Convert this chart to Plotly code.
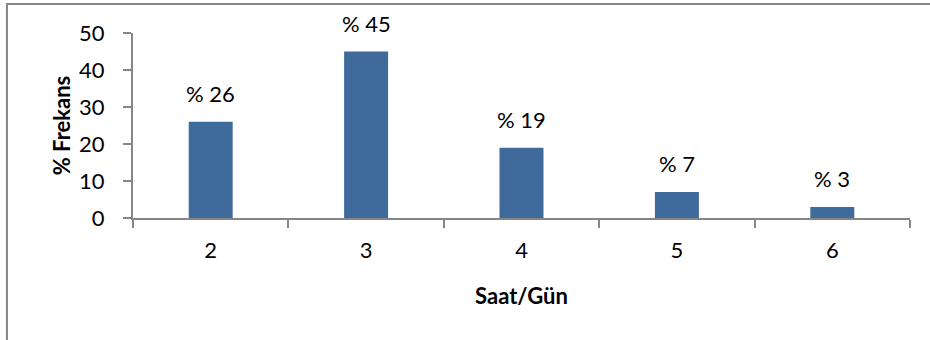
import plotly.graph_objects as go

# Daily hours and their frequency share (%)
hours = ["2", "3", "4", "5", "6"]
freq = [26, 45, 19, 7, 3]
y_ticks = [0, 10, 20, 30, 40, 50]

FONT = "Lato, Open Sans, sans-serif"
AXIS = "#868686"
BAR = "#3F6A9C"
FS = 22

fig = go.Figure(
    go.Bar(
        x=hours,
        y=freq,
        marker=dict(color=BAR, line=dict(width=0)),
        width=0.283,
        hoverinfo="skip",
    )
)

# value labels above each bar (category index positions)
for i, v in enumerate(freq):
    fig.add_annotation(
        x=i, y=v, text=f"% {v}", showarrow=False,
        yanchor="bottom", yshift=13,
        font=dict(family=FONT, size=FS, color="#000000"),
    )

# outer chart frame
fig.add_shape(
    type="rect", xref="paper", yref="paper",
    x0=-0.1622, x1=1.2, y0=-1.0, y1=1.157,
    line=dict(color=AXIS, width=2), fillcolor="rgba(0,0,0,0)",
    layer="below",
)

fig.update_layout(
    width=930, height=340,
    margin=dict(l=133, r=20, t=33, b=122),
    paper_bgcolor="white", plot_bgcolor="white",
    showlegend=False,
    font=dict(family=FONT, size=FS, color="#000000"),
)

fig.update_xaxes(
    type="category",
    range=[-0.5, len(hours) - 0.5],
    tickson="boundaries",
    ticks="outside", ticklen=8, tickwidth=2, tickcolor=AXIS,
    showline=True, linecolor=AXIS, linewidth=2,
    showgrid=False, zeroline=False,
    ticklabelstandoff=12,
    tickfont=dict(family=FONT, size=FS),
    title=dict(text="<b>Saat/Gün</b>", font=dict(family=FONT, size=FS), standoff=26),
)

fig.update_yaxes(
    range=[0, 50],
    tickvals=y_ticks,
    ticks="outside", ticklen=8, tickwidth=2, tickcolor=AXIS,
    showline=True, linecolor=AXIS, linewidth=2,
    showgrid=False, zeroline=False,
    ticklabelstandoff=14,
    tickfont=dict(family=FONT, size=FS),
    title=dict(text="<b>% Frekans</b>", font=dict(family=FONT, size=FS), standoff=2),
)

fig.write_html("out.html")
